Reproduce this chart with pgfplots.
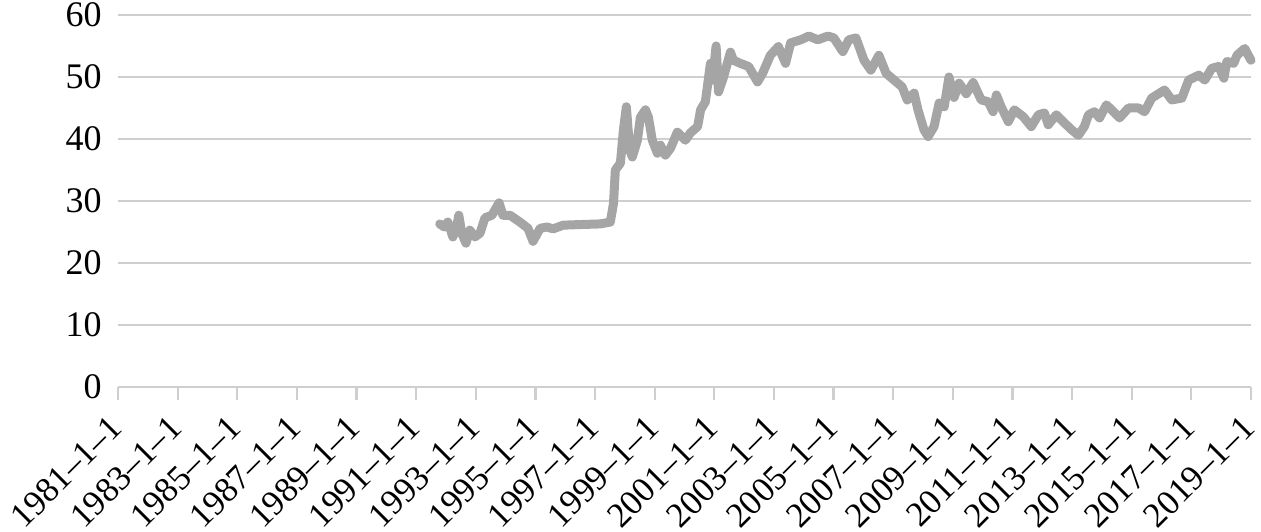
\documentclass[border=0pt]{standalone}
\usepackage{fontspec}
\setmainfont{Liberation Serif}
\usepackage{pgfplots}
\pgfplotsset{compat=1.18}
\definecolor{linegray}{HTML}{A5A5A5}
\definecolor{gridgray}{HTML}{CFCFCF}
\begin{document}
\begin{tikzpicture}
\begin{axis}[
  scale only axis,
  width=566.5pt, height=186pt,
  xmin=1981, xmax=2019, ymin=0, ymax=60,
  axis line style={draw=none},
  axis x line*=bottom,
  ytick={0,10,...,60},
  ymajorgrids,
  grid style={gridgray, line width=1.1pt},
  xtick={1981,1983,...,2019},
  xticklabels={1981–1–1,1983–1–1,1985–1–1,1987–1–1,1989–1–1,1991–1–1,1993–1–1,1995–1–1,1997–1–1,1999–1–1,2001–1–1,2003–1–1,2005–1–1,2007–1–1,2009–1–1,2011–1–1,2013–1–1,2015–1–1,2017–1–1,2019–1–1},
  x tick style={gridgray, line width=1.1pt},
  xtick align=outside,
  major tick length=6.5pt,
  ytick style={draw=none},
  tick label style={font=\fontsize{18}{20}\selectfont, text=black},
  xticklabel style={font=\fontsize{17.5}{20}\selectfont, xshift=-1pt, yshift=-11pt, rotate=45, anchor=east, inner sep=0pt},
  yticklabel style={inner sep=0pt, xshift=-8pt},
  /pgf/number format/assume math mode=true,
  clip=false,
]
\draw[gridgray, line width=1.1pt] (axis cs:1981,0) -- (axis cs:2019,0);
\addplot[linegray, line width=4.5pt, line join=round, line cap=round] coordinates {
(1991.79,26.3) (1991.95,25.8) (1992.06,26.6) (1992.15,25.4) (1992.23,24.2) (1992.35,25.6) (1992.43,27.7) (1992.53,24.8)
(1992.67,23.2) (1992.80,25.3) (1992.97,24.2) (1993.14,24.8) (1993.31,27.3)
(1993.54,27.7) (1993.78,29.7) (1993.91,27.7) (1994.15,27.7) (1994.48,26.6)
(1994.75,25.6) (1994.92,23.5) (1995.16,25.6) (1995.39,25.8) (1995.59,25.5)
(1995.93,26.1) (1996.50,26.2) (1997.17,26.3) (1997.51,26.6) (1997.58,28.5)
(1997.62,29.7) (1997.68,35.0) (1997.85,36.1) (1997.95,41.4) (1998.05,45.2)
(1998.11,41.4) (1998.18,38.0) (1998.25,37.1) (1998.42,39.8) (1998.52,43.5) (1998.69,44.7)
(1998.79,43.5) (1998.92,39.8) (1999.09,37.7) (1999.19,39.0) (1999.36,37.4)
(1999.53,38.5) (1999.76,41.1) (2000.03,39.8) (2000.20,41.0) (2000.44,42.0)
(2000.54,44.7) (2000.70,46.0) (2000.81,50.0) (2000.87,52.2) (2000.94,49.5)
(2001.06,55.0) (2001.14,47.6) (2001.31,50.0) (2001.54,54.0) (2001.64,52.7)
(2001.87,52.2) (2002.15,51.7) (2002.45,49.2) (2002.62,50.6) (2002.88,53.5)
(2003.15,54.9) (2003.39,52.2) (2003.56,55.5) (2003.90,56.0) (2004.17,56.6)
(2004.47,56.0) (2004.81,56.6) (2005.01,56.3) (2005.31,54.1) (2005.51,56.0)
(2005.75,56.3) (2006.02,52.7) (2006.25,51.1) (2006.52,53.5) (2006.76,50.6)
(2007.03,49.5) (2007.30,48.4) (2007.47,46.3) (2007.70,47.4) (2007.83,44.7)
(2008.03,41.5) (2008.17,40.4) (2008.37,42.0) (2008.54,45.8) (2008.71,45.2)
(2008.87,50.0) (2009.04,46.7) (2009.21,49.0) (2009.45,47.3) (2009.68,49.1)
(2009.95,46.3) (2010.19,46.0) (2010.35,44.4) (2010.46,47.1) (2010.62,45.2)
(2010.86,42.8) (2011.06,44.7) (2011.36,43.6) (2011.63,42.0) (2011.87,43.9)
(2012.07,44.2) (2012.20,42.3) (2012.47,43.9) (2012.74,42.6) (2012.98,41.5)
(2013.21,40.6) (2013.41,42.0) (2013.55,43.9) (2013.75,44.4) (2013.92,43.4)
(2014.15,45.5) (2014.39,44.4) (2014.59,43.4) (2014.89,45.0) (2015.23,45.0)
(2015.43,44.4) (2015.67,46.6) (2016.10,47.9) (2016.34,46.3) (2016.68,46.6)
(2016.91,49.5) (2017.25,50.3) (2017.45,49.5) (2017.68,51.4) (2017.92,51.7)
(2018.09,49.8) (2018.19,52.5) (2018.42,52.2) (2018.53,53.5) (2018.79,54.6)
(2018.93,53.3) (2019.00,52.7)
};
\end{axis}
\pgfresetboundingbox
\path[use as bounding box] ([xshift=-59pt,yshift=-72.5pt]current axis.south west) rectangle ([xshift=5pt,yshift=7.5pt]current axis.north east);
\end{tikzpicture}
\end{document}
